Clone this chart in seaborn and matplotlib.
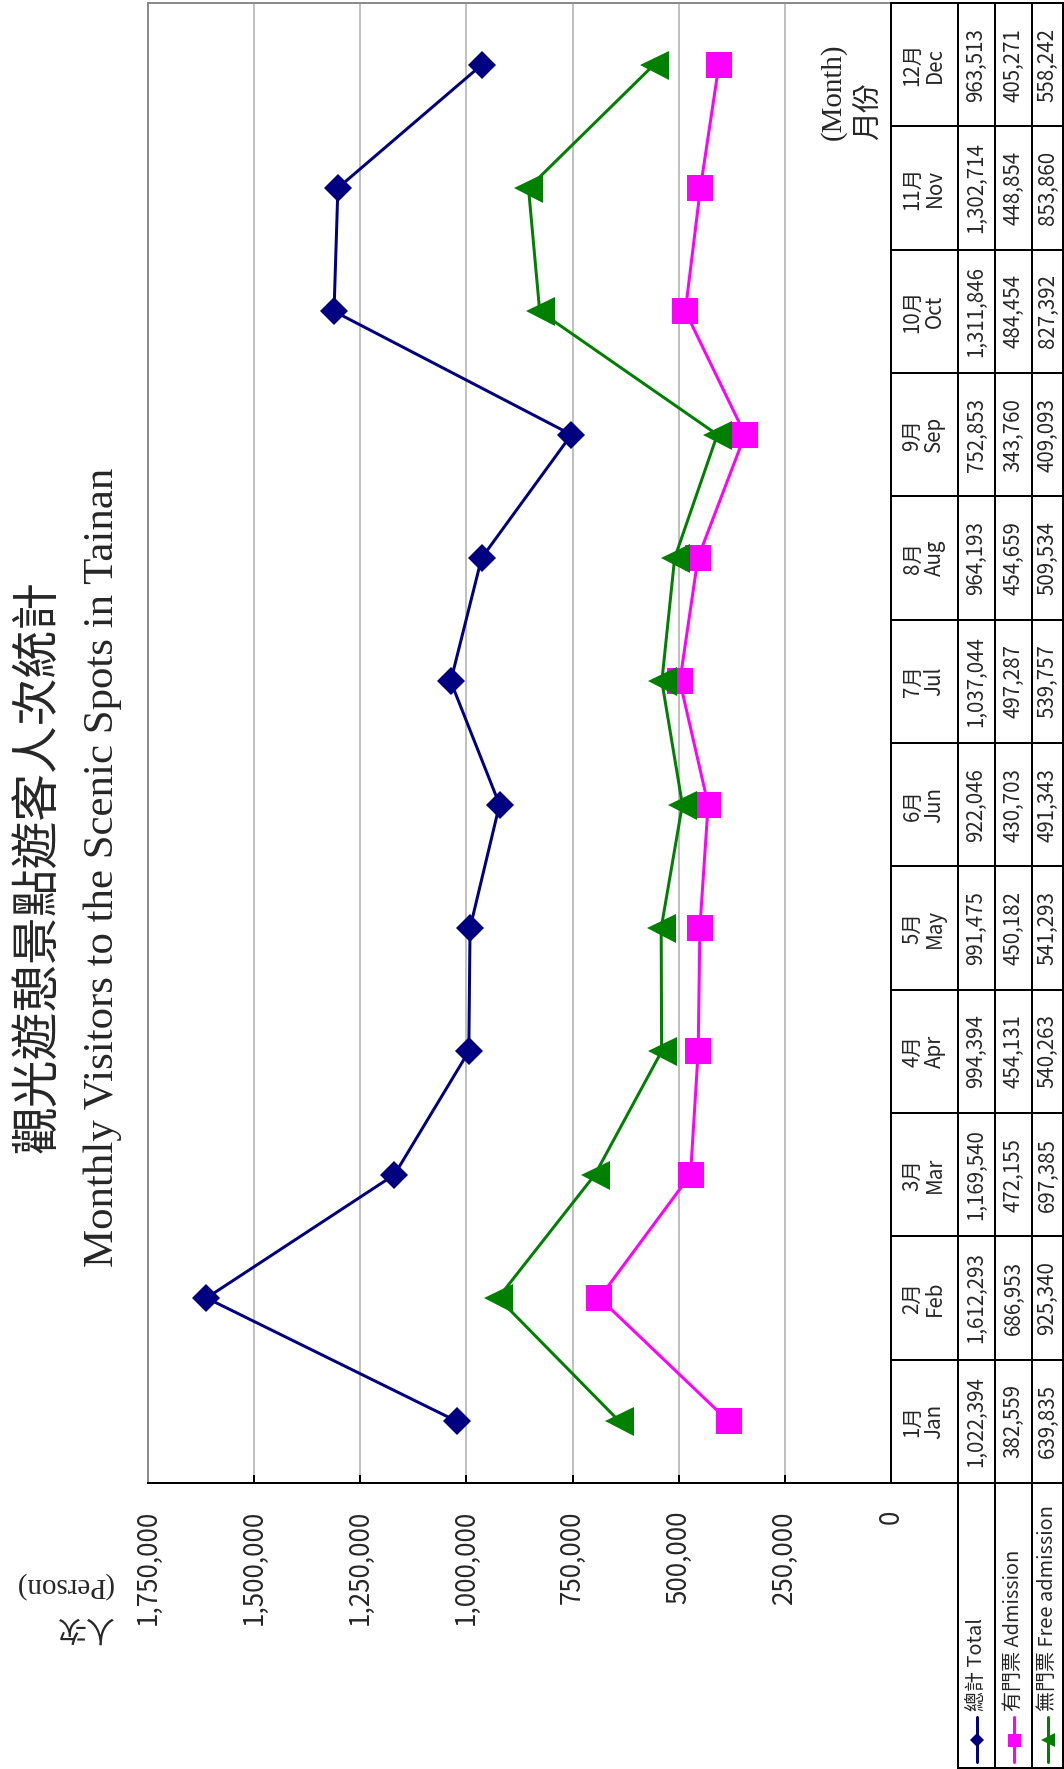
import matplotlib
matplotlib.use("Agg")
import matplotlib.pyplot as plt
from matplotlib.ticker import FuncFormatter
import seaborn as sns
import pandas as pd

# ---------------- data ----------------
months_zh = ["1月", "2月", "3月", "4月", "5月", "6月", "7月", "8月", "9月", "10月", "11月", "12月"]
months_en = ["Jan", "Feb", "Mar", "Apr", "May", "Jun", "Jul", "Aug", "Sep", "Oct", "Nov", "Dec"]
total = [1022394, 1612293, 1169540, 994394, 991475, 922046, 1037044, 964193, 752853, 1311846, 1302714, 963513]
admission = [382559, 686953, 472155, 454131, 450182, 430703, 497287, 454659, 343760, 484454, 448854, 405271]
free = [639835, 925340, 697385, 540263, 541293, 491343, 539757, 509534, 409093, 827392, 853860, 558242]
series_labels = ["總計 Total", "有門票 Admission", "無門票 Free admission"]
value_ticks = [0, 250000, 500000, 750000, 1000000, 1250000, 1500000, 1750000]
title_zh = "觀光遊憩景點遊客人次統計"
title_en = "Monthly Visitors to the Scenic Spots in Tainan"
unit_en = "(Person)"
unit_zh = "人次"
month_en_lbl = "(Month)"
month_zh_lbl = "月份"

df = pd.DataFrame({"month": list(range(len(months_en))), "total": total,
                   "admission": admission, "free": free})

# ---------------- style ----------------
sns.set_style("white")
CJK = ["Noto Sans CJK TC", "DejaVu Sans"]
SERIF = ["Liberation Serif", "DejaVu Serif"]
plt.rcParams["font.family"] = CJK

W, H, DPI = 1064, 1769, 100
PX = 72 / DPI
fig = plt.figure(figsize=(W / DPI, H / DPI), dpi=DPI)
fig.patch.set_facecolor("white")

# plot area (rotated chart: value axis horizontal, months vertical)
PL, PR, PT, PB = 148, 891, 3, 1483
ax = fig.add_axes([PL / W, (H - PB) / H, (PR - PL) / W, (PB - PT) / H])

series = [
    ("total", "#000080", "D", 20.5, 9.5),
    ("admission", "#ff00ff", "s", 27, 13),
    ("free", "#008000", "<", 29, 14),
]
for col, color, marker, ms, _ in series:
    sns.lineplot(data=df, x=col, y="month", orient="y", sort=True, errorbar=None,
                 color=color, marker=marker, markersize=ms * PX, linewidth=3 * PX,
                 markeredgewidth=0, ax=ax)

ax.set_xlim(value_ticks[-1], value_ticks[0])
ax.set_ylim(-0.5, len(months_en) - 0.5)
ax.set_xticks(value_ticks)
ax.xaxis.set_major_formatter(FuncFormatter(lambda v, p: f"{int(round(v)):,}"))
ax.tick_params(axis="x", direction="in", length=8 * PX, width=2 * PX, color="black",
               pad=27 * PX, labelsize=26 * PX, labelrotation=90, bottom=True)
ax.set_yticks([])
ax.set_xlabel("")
ax.set_ylabel("")
ax.grid(axis="x", color="#c0c0c0", linewidth=2 * PX)
ax.grid(axis="y", visible=False)
ax.set_axisbelow(True)
for s in ["left", "top"]:
    ax.spines[s].set_color("#8c8c8c")
    ax.spines[s].set_linewidth(2 * PX)
for s in ["bottom", "right"]:
    ax.spines[s].set_color("black")
    ax.spines[s].set_linewidth(2 * PX)
ax.legend_ = None

# ---------------- overlay in pixel coordinates ----------------
ov = fig.add_axes([0, 0, 1, 1], zorder=5)
ov.set_xlim(0, W)
ov.set_ylim(H, 0)
ov.axis("off")
ov.patch.set_alpha(0)

renderer = fig.canvas.get_renderer()


def fit(t, target):
    bb = t.get_window_extent(renderer)
    length = max(bb.width, bb.height)
    t.set_fontsize(t.get_fontsize() * target / length)


# titles
t1 = ov.text(38, 866, title_zh, rotation=90, rotation_mode="anchor", ha="center",
             va="center", fontsize=34, family=CJK)
fit(t1, 573)
t2 = ov.text(113, 867, title_en, rotation=90, rotation_mode="anchor", ha="center",
             va="baseline", fontsize=30, family=SERIF)
fit(t2, 800)

# unit label (upside down)
ov.text(113, 1585, unit_en, rotation=180, rotation_mode="anchor", ha="left",
        va="center", fontsize=29 * PX, family=SERIF)
ov.text(113, 1627, unit_zh, rotation=180, rotation_mode="anchor", ha="left",
        va="center", fontsize=29 * PX, family=CJK)

# month label
ov.text(833, 140, month_en_lbl, rotation=90, rotation_mode="anchor", ha="left",
        va="center", fontsize=29 * PX, family=SERIF)
ov.text(869, 140, month_zh_lbl, rotation=90, rotation_mode="anchor", ha="left",
        va="center", fontsize=29 * PX, family=CJK)

# data table
cols = [891, 958, 995, 1032, 1063]
LB = 1768
n = len(months_en)
step = (PB - PT) / n
lw = 2 * PX
for x in cols:
    ov.plot([x, x], [PT, PB], color="black", lw=lw, solid_capstyle="projecting")
for k in range(n + 1):
    y = PB - k * step
    ov.plot([cols[0], cols[-1]], [y, y], color="black", lw=lw, solid_capstyle="projecting")
for x in cols[1:]:
    ov.plot([x, x], [PB, LB], color="black", lw=lw, solid_capstyle="projecting")
ov.plot([cols[1], cols[-1]], [LB, LB], color="black", lw=lw, solid_capstyle="projecting")

value_cols = [df["total"], df["admission"], df["free"]]
for i in range(n):
    yc = PB - (i + 0.5) * step
    ov.text((cols[0] + cols[1]) / 2 - 1, yc, f"{months_zh[i]}\n{months_en[i]}", rotation=90,
            ha="center", va="center", multialignment="center", fontsize=20.5 * PX,
            linespacing=1.0, family=CJK)
    for j, vals in enumerate(value_cols):
        xc = (cols[j + 1] + cols[j + 2]) / 2
        ov.text(xc, yc, f"{int(vals[i]):,}", rotation=90, ha="center", va="center",
                fontsize=20.5 * PX, family=CJK)

# legend cells
for j, (col, color, marker, ms, lms) in enumerate(series):
    xc = (cols[j + 1] + cols[j + 2]) / 2
    ov.plot([xc, xc], [1762, 1717], color=color, lw=3 * PX)
    ov.plot([xc], [1740], marker=marker, ms=lms * PX, color=color, mew=0, lw=0)
    ov.text(xc, 1711, series_labels[j], rotation=90, rotation_mode="anchor", ha="left",
            va="center", fontsize=20 * PX, family=CJK)

fig.savefig("out.png", dpi=DPI, facecolor="white")
